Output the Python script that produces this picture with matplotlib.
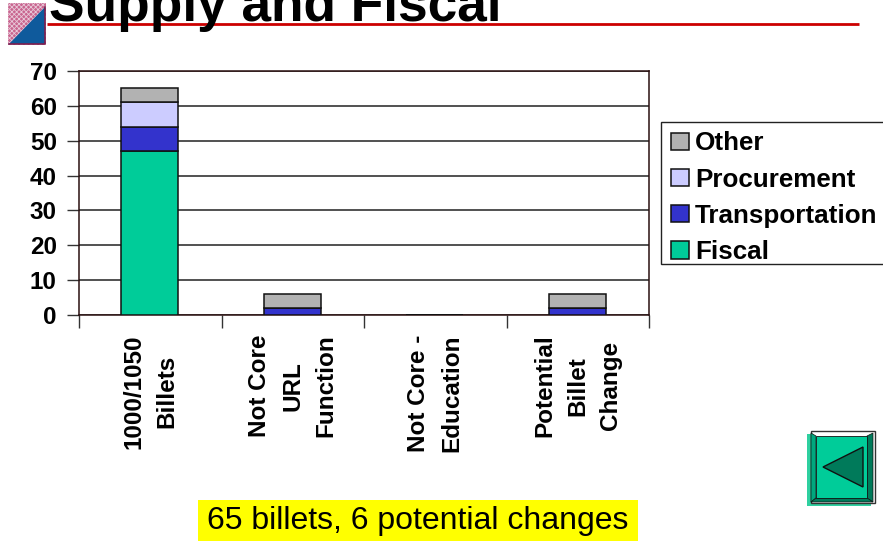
import numpy as np
import matplotlib.pyplot as plt
from matplotlib.patches import Rectangle, Polygon

plt.rcParams["font.family"] = ["Liberation Sans", "DejaVu Sans"]
plt.rcParams["hatch.linewidth"] = 0.6

# ---- data ----
CATEGORIES = ["1000/1050\nBillets", "Not Core\nURL\nFunction", "Not Core -\nEducation", "Potential\nBillet\nChange"]
FISCAL = [47, 0, 0, 0]
TRANSPORTATION = [7, 2, 0, 2]
PROCUREMENT = [7, 0, 0, 0]
OTHER = [4, 4, 0, 4]
YTICKS = [0, 10, 20, 30, 40, 50, 60, 70]

SERIES = [
    ("Fiscal", FISCAL, "#00CC99"),
    ("Transportation", TRANSPORTATION, "#3333CC"),
    ("Procurement", PROCUREMENT, "#CCCCFF"),
    ("Other", OTHER, "#B2B2B2"),
]

W, H = 883, 541
fig = plt.figure(figsize=(W / 100, H / 100), dpi=100)

# overlay in pixel coords for the slide decoration
deco = fig.add_axes([0, 0, 1, 1], zorder=0)
deco.set_xlim(0, W)
deco.set_ylim(H, 0)
deco.axis("off")

ax = fig.add_axes([79 / W, 1 - 315 / H, (649 - 79) / W, (315 - 71) / H], zorder=1)
ax.patch.set_alpha(0)

x = np.arange(len(CATEGORIES))
bottom = np.zeros(len(CATEGORIES))
for name, vals, col in SERIES:
    vals = np.array(vals)
    ax.bar(x - 0.005, vals, width=0.4, bottom=bottom, color=col, edgecolor="#111111",
           linewidth=1.1, label=name, zorder=3)
    bottom += vals

ax.set_xlim(-0.5, 3.5)
ax.set_ylim(0, 70)
ax.set_yticks(YTICKS)
ax.grid(axis="y", color="#222222", linewidth=1.1, zorder=1)
ax.set_axisbelow(True)
ax.set_yticklabels([str(v) for v in YTICKS], fontsize=17.5, fontweight="bold")
ax.tick_params(axis="y", length=9, width=1, color="#333333", pad=7)

# category ticks sit between the bars, labels are centred on the bars
ax.set_xticks(np.arange(-0.5, 4, 1))
ax.set_xticklabels([])
ax.tick_params(axis="x", length=9, width=1, color="#333333")
for xi, lab in zip(x, CATEGORIES):
    ax.annotate(lab, xy=(xi, 0), xycoords=("data", "axes fraction"), xytext=(0, -14),
                textcoords="offset points", rotation=90, ha="center", va="top",
                multialignment="center", fontsize=17.5, fontweight="bold", linespacing=1.55)

for s in ax.spines.values():
    s.set_color("#2a1010")
    s.set_linewidth(1.1)

# legend frame runs off the right edge of the slide
deco.add_patch(Rectangle((661, 122), 240, 142, fc="white", ec="#222222", lw=1))
handles, labels = ax.get_legend_handles_labels()
leg = ax.legend(handles[::-1], labels[::-1], loc="upper left",
                bbox_to_anchor=(661 / W, 1 - 121 / H), bbox_transform=fig.transFigure,
                prop={"weight": "bold", "size": 18.7}, frameon=False,
                borderaxespad=0, borderpad=0.4, labelspacing=0.47,
                handlelength=0.66, handleheight=0.66, handletextpad=0.25)

# title and red rule, title is cut off at the top like the slide
deco.plot([47, 859], [23.5, 23.5], color="#CC0000", lw=2, solid_capstyle="butt")
deco.text(49, 21, "Supply and Fiscal", fontsize=38.3, fontweight="bold", ha="left", va="baseline")

# corner logo
deco.add_patch(Rectangle((8, 3), 38, 42, fc="#C9658F", ec="#E8C8D8", hatch="xxxxxxx", lw=0))
deco.add_patch(Polygon([[45, 7], [45, 44], [9, 44]], fc="#0F5A9C", ec="none"))
deco.plot([9, 45, 45], [44, 44, 7], color="#7A2050", lw=1.2)

# yellow caption
deco.add_patch(Rectangle((198, 500), 440, 41, fc="#FFFF00", ec="none"))
deco.text(418, 521, "65 billets, 6 potential changes", fontsize=23, ha="center", va="center")

# back button
deco.add_patch(Rectangle((807, 434), 64, 72, fc="#2FD0A0", ec="none"))
deco.add_patch(Rectangle((811, 431), 64, 72, fc="white", ec="#333333", lw=1))
deco.add_patch(Polygon([[811, 433], [816, 436], [816, 498], [811, 502]], fc="#00A87E", ec="#111111", lw=0.5))
deco.add_patch(Polygon([[873, 433], [867, 436], [867, 498], [873, 502]], fc="#007A5A", ec="#111111", lw=0.5))
deco.add_patch(Polygon([[811, 502], [816, 498], [867, 498], [873, 502]], fc="#007A5A", ec="#111111", lw=0.5))
deco.add_patch(Rectangle((816, 436), 51, 62, fc="#00CC99", ec="#111111", lw=0.6))
deco.add_patch(Polygon([[823, 467], [863, 447], [863, 487]], fc="#007A5A", ec="#111111", lw=1))

fig.savefig("out.png", dpi=100)
